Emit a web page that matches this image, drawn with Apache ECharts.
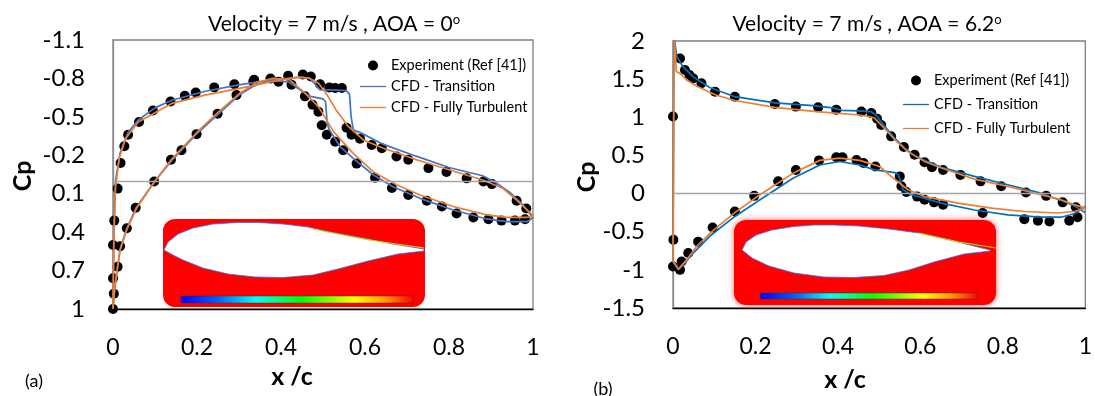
<!DOCTYPE html>
<html><head><meta charset="utf-8">
<script src="https://cdn.jsdelivr.net/npm/echarts@6/dist/echarts.min.js"></script>
<style>html,body{margin:0;padding:0;background:#fff}#c{width:1095px;height:396px}</style>
</head><body><div id="c"></div>
<script>
const FONT = 'Lato, "Liberation Sans", sans-serif';

// ---- tick labels ----
const xTicks = [0, 0.2, 0.4, 0.6, 0.8, 1];
const cpTicksA = [-1.1, -0.8, -0.5, -0.2, 0.1, 0.4, 0.7, 1];
const cpTicksB = [-1.5, -1, -0.5, 0, 0.5, 1, 1.5, 2];

// ---- (a) AOA = 0 : experiment [x/c, Cp] ----
const expA_suction = [[0.000,1.00],[0.002,0.88],[0.000,0.76],[0.000,0.50],[0.003,0.31],[0.011,0.06],[0.018,-0.14],[0.027,-0.27],[0.036,-0.36],[0.062,-0.46],[0.095,-0.55],[0.137,-0.62],[0.171,-0.665],[0.197,-0.69],[0.241,-0.73],[0.289,-0.755],[0.336,-0.79],[0.375,-0.80],[0.417,-0.82],[0.452,-0.83],[0.471,-0.815],[0.493,-0.755],[0.515,-0.73],[0.529,-0.725],[0.545,-0.725],[0.556,-0.415],[0.568,-0.36],[0.588,-0.33],[0.616,-0.28],[0.640,-0.255],[0.675,-0.19],[0.703,-0.165],[0.751,-0.10],[0.794,-0.07],[0.842,-0.02],[0.882,0.005],[0.902,0.025],[0.961,0.155],[0.984,0.215]];
const expA_pressure = [[0.011,0.67],[0.017,0.51],[0.033,0.37],[0.054,0.21],[0.098,0.005],[0.138,-0.165],[0.163,-0.24],[0.199,-0.365],[0.249,-0.525],[0.294,-0.67],[0.334,-0.775],[0.394,-0.775],[0.425,-0.75],[0.457,-0.66],[0.475,-0.595],[0.489,-0.54],[0.497,-0.435],[0.509,-0.36],[0.529,-0.305],[0.548,-0.24],[0.580,-0.135],[0.624,-0.025],[0.664,0.055],[0.703,0.11],[0.747,0.155],[0.783,0.20],[0.818,0.255],[0.858,0.285],[0.894,0.30],[0.925,0.31],[0.957,0.31],[0.981,0.30]];
// CFD transition (TE -> LE on suction, LE -> TE on pressure)
const tranA_suction = [[1.0,0.29],[0.977,0.19],[0.945,0.09],[0.91,0.01],[0.88,-0.04],[0.80,-0.105],[0.72,-0.195],[0.644,-0.285],[0.59,-0.375],[0.572,-0.40],[0.567,-0.50],[0.563,-0.68],[0.555,-0.705],[0.52,-0.71],[0.493,-0.71],[0.48,-0.76],[0.468,-0.80],[0.45,-0.81],[0.38,-0.79],[0.30,-0.75],[0.22,-0.70],[0.14,-0.63],[0.10,-0.57],[0.06,-0.475],[0.036,-0.38],[0.017,-0.22],[0.006,0.0],[0.002,0.4],[0.0,1.0]];
const tranA_pressure = [[0.004,0.85],[0.009,0.72],[0.017,0.53],[0.033,0.37],[0.055,0.21],[0.10,0.0],[0.14,-0.16],[0.20,-0.37],[0.25,-0.52],[0.30,-0.67],[0.34,-0.75],[0.38,-0.785],[0.42,-0.77],[0.45,-0.70],[0.47,-0.66],[0.50,-0.64],[0.506,-0.62],[0.510,-0.45],[0.515,-0.40],[0.54,-0.27],[0.572,-0.176],[0.62,-0.046],[0.667,0.045],[0.731,0.136],[0.81,0.227],[0.89,0.297],[0.937,0.318],[0.985,0.318],[1.0,0.29]];
// CFD fully turbulent
const turbA_suction = [[1.0,0.27],[0.961,0.15],[0.929,0.06],[0.882,-0.005],[0.802,-0.085],[0.723,-0.165],[0.644,-0.255],[0.596,-0.32],[0.56,-0.425],[0.53,-0.56],[0.51,-0.67],[0.49,-0.76],[0.469,-0.80],[0.44,-0.81],[0.378,-0.775],[0.298,-0.72],[0.219,-0.67],[0.14,-0.605],[0.06,-0.46],[0.03,-0.33],[0.015,-0.18],[0.006,0.05],[0.002,0.45],[0.0,1.0]];
const turbA_pressure = [[0.004,0.84],[0.009,0.71],[0.017,0.54],[0.033,0.38],[0.055,0.22],[0.10,0.0],[0.14,-0.17],[0.20,-0.38],[0.25,-0.535],[0.30,-0.68],[0.34,-0.765],[0.38,-0.80],[0.42,-0.79],[0.457,-0.685],[0.489,-0.58],[0.525,-0.385],[0.572,-0.215],[0.62,-0.07],[0.675,0.03],[0.731,0.11],[0.81,0.20],[0.89,0.265],[0.937,0.285],[0.985,0.285],[1.0,0.28]];

// ---- (b) AOA = 6.2 : experiment ----
const expB_upper = [[0.000,1.01],[0.017,1.77],[0.029,1.62],[0.040,1.555],[0.049,1.51],[0.069,1.445],[0.102,1.335],[0.150,1.27],[0.247,1.175],[0.298,1.14],[0.352,1.13],[0.396,1.10],[0.457,1.075],[0.481,1.055],[0.495,0.98],[0.505,0.90],[0.529,0.75],[0.560,0.61],[0.586,0.51],[0.610,0.41],[0.628,0.345],[0.655,0.31],[0.697,0.245],[0.746,0.16],[0.796,0.095],[0.856,0.015],[0.905,-0.03],[0.945,-0.115],[0.977,-0.18]];
const expB_lower = [[0.001,-0.605],[0.000,-0.955],[0.017,-1.0],[0.021,-0.89],[0.037,-0.78],[0.061,-0.63],[0.096,-0.445],[0.150,-0.235],[0.197,-0.03],[0.255,0.16],[0.298,0.31],[0.354,0.435],[0.396,0.475],[0.411,0.475],[0.445,0.44],[0.462,0.40],[0.491,0.355],[0.550,0.225],[0.554,0.095],[0.566,0.02],[0.592,-0.04],[0.610,-0.08],[0.633,-0.115],[0.655,-0.145],[0.751,-0.255],[0.852,-0.335],[0.885,-0.355],[0.913,-0.365],[0.961,-0.355],[0.981,-0.31]];
const tranB_upper = [[1.0,-0.25],[0.973,-0.16],[0.941,-0.09],[0.892,0.005],[0.812,0.115],[0.731,0.225],[0.651,0.345],[0.610,0.435],[0.586,0.495],[0.562,0.595],[0.538,0.725],[0.513,0.885],[0.492,1.03],[0.48,1.075],[0.45,1.085],[0.41,1.09],[0.39,1.12],[0.348,1.15],[0.247,1.19],[0.15,1.27],[0.089,1.39],[0.049,1.53],[0.024,1.665],[0.009,1.795],[0.002,2.1],[0.0,2.1],[0.0,-0.9]];
const tranB_lower = [[0.013,-1.0],[0.025,-0.935],[0.049,-0.78],[0.089,-0.56],[0.15,-0.30],[0.211,-0.08],[0.291,0.20],[0.356,0.375],[0.404,0.42],[0.453,0.375],[0.489,0.31],[0.538,0.275],[0.547,0.245],[0.558,0.05],[0.578,-0.015],[0.651,-0.125],[0.731,-0.215],[0.812,-0.28],[0.892,-0.31],[0.941,-0.31],[0.973,-0.265],[1.0,-0.17]];
const turbB_upper = [[1.0,-0.19],[0.973,-0.145],[0.941,-0.08],[0.892,-0.015],[0.812,0.095],[0.731,0.19],[0.651,0.335],[0.610,0.42],[0.570,0.55],[0.538,0.705],[0.513,0.855],[0.489,0.99],[0.475,1.01],[0.453,1.03],[0.348,1.075],[0.247,1.13],[0.15,1.22],[0.102,1.295],[0.057,1.41],[0.033,1.49],[0.017,1.575],[0.008,1.60],[0.004,1.61],[0.003,2.1],[0.0,2.1],[0.0,-0.88]];
const turbB_lower = [[0.013,-0.99],[0.033,-0.87],[0.057,-0.695],[0.094,-0.50],[0.15,-0.25],[0.211,-0.015],[0.291,0.265],[0.356,0.435],[0.404,0.465],[0.453,0.435],[0.501,0.355],[0.529,0.225],[0.570,0.05],[0.610,-0.04],[0.691,-0.125],[0.772,-0.19],[0.852,-0.235],[0.933,-0.255],[0.973,-0.235],[1.0,-0.19]];

const NAMES = ['Experiment (Ref [41])', 'CFD - Transition', 'CFD - Fully Turbulent'];
const BLUE_A = '#4472C4', BLUE_B = '#0070C0', ORANGE = '#ED7D31';

const chart = echarts.init(document.getElementById('c'), null, {renderer: 'canvas'});

function xAx(g) {
  return {gridIndex: g, type: 'value', min: 0, max: 1, interval: 0.2,
    axisLine: {onZero: false, lineStyle: {color: '#000', width: 1.3}},
    axisTick: {show: false}, splitLine: {show: false},
    axisLabel: {margin: 27, fontSize: 23, color: '#000', fontFamily: FONT}};
}
function zeroLine() {
  return {silent: true, symbol: 'none', label: {show: false}, animation: false,
    lineStyle: {color: '#a6a6a6', width: 1.3, type: 'solid'}, data: [{yAxis: 0}]};
}
function scatterS(g, data) {
  return {name: NAMES[0], type: 'scatter', xAxisIndex: g, yAxisIndex: g, data: data,
    symbol: 'circle', symbolSize: 10, itemStyle: {color: '#000', opacity: 1}, clip: false, markLine: zeroLine(), z: 2};
}
function lineS(g, name, data, color) {
  return {name: name, type: 'line', xAxisIndex: g, yAxisIndex: g, data: data, symbol: 'none', showSymbol: false,
    lineStyle: {color: color, width: 1.7}, itemStyle: {color: color}, clip: true, z: 3};
}
const BAR_ICON = 'path://M0,0L20,0L20,1L0,1Z';
function legendCfg(left, top, gap, blue) {
  return {orient: 'vertical', left: left, top: top, itemGap: gap, itemWidth: 26, itemHeight: 10,
    textStyle: {fontSize: 14.5, fontFamily: FONT, color: '#000'}, selectedMode: false,
    data: [
      {name: NAMES[0], icon: 'circle', itemStyle: {color: '#000', opacity: 1}},
      {name: NAMES[1], icon: BAR_ICON, itemStyle: {color: blue}, lineStyle: {color: blue, width: 1.7}},
      {name: NAMES[2], icon: BAR_ICON, itemStyle: {color: ORANGE}, lineStyle: {color: ORANGE, width: 1.7}}
    ]};
}
const RAINBOW = [
  {offset: 0, color: '#0000ff'}, {offset: 0.16, color: '#0060ff'}, {offset: 0.32, color: '#00ffff'},
  {offset: 0.52, color: '#00ff00'}, {offset: 0.75, color: '#ffff00'}, {offset: 0.88, color: '#ff9900'},
  {offset: 1, color: '#ff0000'}];
function inset(x, y, w, h, foil, bar, glow) {
  return {type: 'group', x: x, y: y, silent: true, children: [
    {type: 'rect', z: 1, shape: {x: 0, y: 0, width: w, height: h, r: 12},
      style: {fill: '#ff0000', shadowBlur: glow ? 6 : 0, shadowColor: 'rgba(255,60,60,0.8)'}},
    {type: 'polygon', z: 1, shape: {points: foil}, style: {fill: '#ffffff', stroke: '#3a6cf0', lineWidth: 0.8}},
    {type: 'polyline', z: 1, shape: {points: bar.wake}, style: {stroke: '#b8e000', lineWidth: 1.2, fill: null}},
    {type: 'rect', z: 1, shape: {x: bar.x, y: bar.y, width: bar.w, height: bar.h},
      style: {fill: new echarts.graphic.LinearGradient(0, 0, 1, 0, RAINBOW), stroke: '#333', lineWidth: 0.5}}
  ]};
}
function txt(x, y, text, size, bold, rot, rich) {
  return {type: 'text', x: x, y: y, rotation: rot || 0, z: 5, silent: true,
    style: {text: text, fontSize: size, fontWeight: bold ? 'bold' : 'normal', fontFamily: FONT, fill: '#000',
      align: 'center', verticalAlign: 'middle', rich: rich || {}}};
}
const SUP = {s: {fontSize: 13, fontFamily: FONT, fill: '#000', verticalAlign: 'top', lineHeight: 15}};

const foilA = [[1,31],[5,23],[15,15],[30,9],[50,5],[75,3.5],[95,3.5],[120,5],[145,8],[167,13],[200,19],[230,25],[261,30],
  [261,32],[235,35],[205,42],[175,50],[150,56],[120,58.5],[92,58],[65,55],[40,49],[20,41],[8,35]];
const foilB = [[8,30],[12,22],[22,15],[38,10],[60,6.5],[80,5],[99,5],[125,6],[155,9],[185,13],[220,21],[256,30],
  [256,31],[230,34],[200,42],[175,50],[150,55.5],[120,57.5],[90,57],[60,53],[35,46],[18,38]];

const option = {
  animation: false,
  backgroundColor: '#fff',
  grid: [
    {left: 113, top: 40, width: 420, height: 269, show: true, borderColor: '#7f7f7f', borderWidth: 1.3, backgroundColor: 'transparent'},
    {left: 673, top: 41, width: 413, height: 267, show: true, borderColor: '#7f7f7f', borderWidth: 1.3, backgroundColor: 'transparent'}
  ],
  xAxis: [xAx(0), xAx(1)],
  yAxis: [
    {gridIndex: 0, type: 'value', inverse: true, min: -1.1, max: 1,
      axisLine: {show: true, onZero: false, lineStyle: {color: '#8c8c8c', width: 1.3}},
      axisTick: {show: false}, splitLine: {show: false},
      axisLabel: {customValues: cpTicksA, margin: 28, fontSize: 24, color: '#000', fontFamily: FONT,
        formatter: v => String(v)}},
    {gridIndex: 1, type: 'value', min: -1.5, max: 2, interval: 0.5,
      axisLine: {show: true, onZero: false, lineStyle: {color: '#8c8c8c', width: 1.3}},
      axisTick: {show: false}, splitLine: {show: false},
      axisLabel: {margin: 28, fontSize: 24, color: '#000', fontFamily: FONT}}
  ],
  legend: [legendCfg(355, 53, 6, BLUE_A), legendCfg(898, 68, 9, BLUE_B)],
  series: [
    scatterS(0, expA_suction.concat(expA_pressure)),
    lineS(0, NAMES[1], tranA_suction.concat(tranA_pressure), BLUE_A),
    lineS(0, NAMES[2], turbA_suction.concat(turbA_pressure), ORANGE),
    scatterS(1, expB_upper.concat(expB_lower)),
    lineS(1, NAMES[1], tranB_upper.concat(tranB_lower), BLUE_B),
    lineS(1, NAMES[2], turbB_upper.concat(turbB_lower), ORANGE)
  ],
  graphic: [
    inset(163, 219, 262, 88, foilA,
      {x: 18, y: 77, w: 232, h: 7, wake: [[150, 10], [200, 20], [261, 29]]}, false),
    inset(734, 220, 262, 85, foilB,
      {x: 26, y: 73, w: 218, h: 6, wake: [[185, 13], [225, 22], [262, 28]]}, true),
    txt(334, 24, 'Velocity = 7 m/s , AOA = 0{s|o}', 21, false, 0, SUP),
    txt(867, 24, 'Velocity = 7 m/s , AOA = 6.2{s|o}', 21, false, 0, SUP),
    txt(23, 176, 'Cp', 25, true, Math.PI / 2),
    txt(587, 177, 'Cp', 25, true, Math.PI / 2),
    txt(292, 377, 'x /c', 25, true),
    txt(845, 380, 'x /c', 25, true),
    txt(34, 381, '(a)', 18, false),
    txt(603, 389, '(b)', 18, false)
  ]
};
chart.setOption(option);
</script>
</body></html>
